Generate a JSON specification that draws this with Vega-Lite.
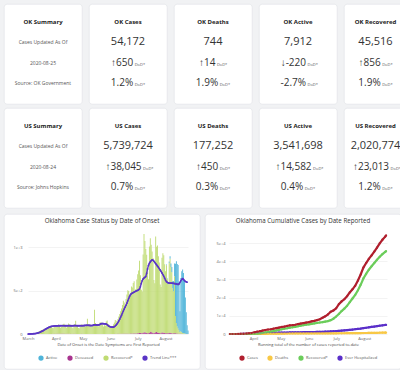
{
"$schema": "https://vega.github.io/schema/vega-lite/v6.json",
"background": "#f1f2f4",
"padding": {"left": 3, "top": 3, "right": 0, "bottom": 0},
"config": {
  "font": "Open Sans",
  "view": {"fill": "white", "stroke": "#e2e4e8", "strokeWidth": 0.7, "cornerRadius": 3}
},
"datasets": {
"cards": [
{"grp":"OK","pos":1,"kind":"summary","l1":"OK Summary","l2":"Cases Updated As Of","l3":"2020-08-25","l4":"Source: OK Government"},
{"grp":"OK","pos":2,"kind":"metric","l1":"OK Cases","l2":"54,172","l3":"↑650","l4":"1.2%"},
{"grp":"OK","pos":3,"kind":"metric","l1":"OK Deaths","l2":"744","l3":"↑14","l4":"1.9%"},
{"grp":"OK","pos":4,"kind":"metric","l1":"OK Active","l2":"7,912","l3":"↓-220","l4":"-2.7%"},
{"grp":"OK","pos":5,"kind":"metric","l1":"OK Recovered","l2":"45,516","l3":"↑856","l4":"1.9%"},
{"grp":"US","pos":1,"kind":"summary","l1":"US Summary","l2":"Cases Updated As Of","l3":"2020-08-24","l4":"Source: Johns Hopkins"},
{"grp":"US","pos":2,"kind":"metric","l1":"US Cases","l2":"5,739,724","l3":"↑38,045","l4":"0.7%"},
{"grp":"US","pos":3,"kind":"metric","l1":"US Deaths","l2":"177,252","l3":"↑450","l4":"0.3%"},
{"grp":"US","pos":4,"kind":"metric","l1":"US Active","l2":"3,541,698","l3":"↑14,582","l4":"0.4%"},
{"grp":"US","pos":5,"kind":"metric","l1":"US Recovered","l2":"2,020,774","l3":"↑23,013","l4":"1.2%"}
],
"onset": [
{"d":"2020/03/01","r":0,"x":0,"a":0,"t":0},
{"d":"2020/03/02","r":1,"x":0,"a":0,"t":0},
{"d":"2020/03/03","r":2,"x":0,"a":0,"t":1},
{"d":"2020/03/04","r":1,"x":0,"a":0,"t":1},
{"d":"2020/03/05","r":3,"x":0,"a":0,"t":2},
{"d":"2020/03/06","r":4,"x":0,"a":0,"t":2},
{"d":"2020/03/07","r":6,"x":0,"a":0,"t":3},
{"d":"2020/03/08","r":8,"x":0,"a":0,"t":4},
{"d":"2020/03/09","r":12,"x":0,"a":0,"t":5},
{"d":"2020/03/10","r":15,"x":0,"a":0,"t":7},
{"d":"2020/03/11","r":20,"x":0,"a":0,"t":9},
{"d":"2020/03/12","r":28,"x":0,"a":0,"t":12},
{"d":"2020/03/13","r":35,"x":0,"a":0,"t":15},
{"d":"2020/03/14","r":40,"x":0,"a":0,"t":19},
{"d":"2020/03/15","r":45,"x":0,"a":0,"t":24},
{"d":"2020/03/16","r":50,"x":0,"a":0,"t":29},
{"d":"2020/03/17","r":55,"x":0,"a":0,"t":34},
{"d":"2020/03/18","r":60,"x":0,"a":0,"t":40},
{"d":"2020/03/19","r":58,"x":0,"a":0,"t":46},
{"d":"2020/03/20","r":62,"x":1,"a":0,"t":52},
{"d":"2020/03/21","r":70,"x":0,"a":0,"t":58},
{"d":"2020/03/22","r":75,"x":1,"a":0,"t":64},
{"d":"2020/03/23","r":80,"x":2,"a":0,"t":70},
{"d":"2020/03/24","r":85,"x":1,"a":0,"t":75},
{"d":"2020/03/25","r":90,"x":0,"a":0,"t":80},
{"d":"2020/03/26","r":88,"x":1,"a":0,"t":84},
{"d":"2020/03/27","r":70,"x":2,"a":0,"t":87},
{"d":"2020/03/28","r":65,"x":1,"a":0,"t":89},
{"d":"2020/03/29","r":85,"x":1,"a":0,"t":91},
{"d":"2020/03/30","r":95,"x":2,"a":0,"t":92},
{"d":"2020/03/31","r":100,"x":1,"a":0,"t":93},
{"d":"2020/04/01","r":95,"x":3,"a":0,"t":93},
{"d":"2020/04/02","r":100,"x":2,"a":0,"t":94},
{"d":"2020/04/03","r":105,"x":4,"a":0,"t":94},
{"d":"2020/04/04","r":90,"x":3,"a":0,"t":95},
{"d":"2020/04/05","r":70,"x":2,"a":0,"t":95},
{"d":"2020/04/06","r":80,"x":3,"a":0,"t":95},
{"d":"2020/04/07","r":100,"x":4,"a":0,"t":96},
{"d":"2020/04/08","r":110,"x":2,"a":0,"t":96},
{"d":"2020/04/09","r":115,"x":3,"a":0,"t":96},
{"d":"2020/04/10","r":105,"x":2,"a":0,"t":96},
{"d":"2020/04/11","r":85,"x":1,"a":0,"t":95},
{"d":"2020/04/12","r":70,"x":2,"a":0,"t":95},
{"d":"2020/04/13","r":95,"x":3,"a":0,"t":95},
{"d":"2020/04/14","r":120,"x":2,"a":0,"t":96},
{"d":"2020/04/15","r":110,"x":2,"a":0,"t":96},
{"d":"2020/04/16","r":105,"x":1,"a":0,"t":96},
{"d":"2020/04/17","r":100,"x":2,"a":0,"t":95},
{"d":"2020/04/18","r":75,"x":1,"a":0,"t":95},
{"d":"2020/04/19","r":65,"x":1,"a":0,"t":94},
{"d":"2020/04/20","r":105,"x":2,"a":0,"t":95},
{"d":"2020/04/21","r":115,"x":1,"a":0,"t":96},
{"d":"2020/04/22","r":150,"x":2,"a":0,"t":97},
{"d":"2020/04/23","r":100,"x":1,"a":0,"t":97},
{"d":"2020/04/24","r":95,"x":1,"a":0,"t":96},
{"d":"2020/04/25","r":70,"x":0,"a":0,"t":95},
{"d":"2020/04/26","r":65,"x":1,"a":0,"t":95},
{"d":"2020/04/27","r":100,"x":1,"a":0,"t":95},
{"d":"2020/04/28","r":105,"x":1,"a":0,"t":96},
{"d":"2020/04/29","r":110,"x":2,"a":0,"t":96},
{"d":"2020/04/30","r":95,"x":1,"a":0,"t":95},
{"d":"2020/05/01","r":100,"x":1,"a":0,"t":96},
{"d":"2020/05/02","r":95,"x":1,"a":0,"t":97},
{"d":"2020/05/03","r":85,"x":0,"a":0,"t":98},
{"d":"2020/05/04","r":105,"x":1,"a":0,"t":99},
{"d":"2020/05/05","r":175,"x":1,"a":0,"t":100},
{"d":"2020/05/06","r":110,"x":0,"a":0,"t":100},
{"d":"2020/05/07","r":115,"x":1,"a":0,"t":100},
{"d":"2020/05/08","r":105,"x":1,"a":0,"t":99},
{"d":"2020/05/09","r":90,"x":0,"a":0,"t":98},
{"d":"2020/05/10","r":80,"x":0,"a":0,"t":97},
{"d":"2020/05/11","r":100,"x":1,"a":0,"t":97},
{"d":"2020/05/12","r":115,"x":1,"a":0,"t":99},
{"d":"2020/05/13","r":280,"x":0,"a":0,"t":103},
{"d":"2020/05/14","r":125,"x":1,"a":0,"t":105},
{"d":"2020/05/15","r":105,"x":0,"a":0,"t":105},
{"d":"2020/05/16","r":90,"x":1,"a":0,"t":104},
{"d":"2020/05/17","r":85,"x":0,"a":0,"t":103},
{"d":"2020/05/18","r":115,"x":0,"a":0,"t":104},
{"d":"2020/05/19","r":130,"x":1,"a":0,"t":106},
{"d":"2020/05/20","r":135,"x":0,"a":0,"t":110},
{"d":"2020/05/21","r":125,"x":0,"a":0,"t":116},
{"d":"2020/05/22","r":110,"x":1,"a":0,"t":120},
{"d":"2020/05/23","r":85,"x":0,"a":0,"t":120},
{"d":"2020/05/24","r":100,"x":0,"a":0,"t":118},
{"d":"2020/05/25","r":95,"x":1,"a":0,"t":117},
{"d":"2020/05/26","r":145,"x":0,"a":0,"t":116},
{"d":"2020/05/27","r":155,"x":0,"a":0,"t":115},
{"d":"2020/05/28","r":115,"x":1,"a":0,"t":108},
{"d":"2020/05/29","r":105,"x":0,"a":0,"t":98},
{"d":"2020/05/30","r":95,"x":0,"a":0,"t":90},
{"d":"2020/05/31","r":85,"x":1,"a":0,"t":85},
{"d":"2020/06/01","r":75,"x":1,"a":0,"t":82},
{"d":"2020/06/02","r":90,"x":0,"a":0,"t":80},
{"d":"2020/06/03","r":110,"x":1,"a":0,"t":79},
{"d":"2020/06/04","r":130,"x":1,"a":0,"t":80},
{"d":"2020/06/05","r":160,"x":2,"a":0,"t":84},
{"d":"2020/06/06","r":150,"x":1,"a":0,"t":92},
{"d":"2020/06/07","r":140,"x":1,"a":0,"t":102},
{"d":"2020/06/08","r":170,"x":2,"a":0,"t":116},
{"d":"2020/06/09","r":200,"x":2,"a":0,"t":132},
{"d":"2020/06/10","r":230,"x":1,"a":0,"t":150},
{"d":"2020/06/11","r":260,"x":2,"a":0,"t":170},
{"d":"2020/06/12","r":290,"x":3,"a":0,"t":192},
{"d":"2020/06/13","r":330,"x":2,"a":0,"t":214},
{"d":"2020/06/14","r":380,"x":3,"a":0,"t":238},
{"d":"2020/06/15","r":360,"x":3,"a":0,"t":262},
{"d":"2020/06/16","r":330,"x":2,"a":0,"t":286},
{"d":"2020/06/17","r":400,"x":3,"a":0,"t":308},
{"d":"2020/06/18","r":450,"x":4,"a":0,"t":330},
{"d":"2020/06/19","r":500,"x":4,"a":0,"t":354},
{"d":"2020/06/20","r":490,"x":3,"a":0,"t":382},
{"d":"2020/06/21","r":440,"x":4,"a":0,"t":408},
{"d":"2020/06/22","r":470,"x":5,"a":0,"t":432},
{"d":"2020/06/23","r":540,"x":5,"a":0,"t":452},
{"d":"2020/06/24","r":530,"x":4,"a":0,"t":463},
{"d":"2020/06/25","r":580,"x":5,"a":0,"t":470},
{"d":"2020/06/26","r":600,"x":6,"a":0,"t":476},
{"d":"2020/06/27","r":490,"x":5,"a":0,"t":482},
{"d":"2020/06/28","r":510,"x":6,"a":0,"t":488},
{"d":"2020/06/29","r":620,"x":7,"a":0,"t":494},
{"d":"2020/06/30","r":680,"x":8,"a":0,"t":498},
{"d":"2020/07/01","r":720,"x":10,"a":0,"t":502},
{"d":"2020/07/02","r":830,"x":12,"a":0,"t":508},
{"d":"2020/07/03","r":660,"x":15,"a":0,"t":518},
{"d":"2020/07/04","r":500,"x":8,"a":0,"t":542},
{"d":"2020/07/05","r":480,"x":9,"a":0,"t":580},
{"d":"2020/07/06","r":900,"x":14,"a":0,"t":612},
{"d":"2020/07/07","r":1130,"x":18,"a":0,"t":632},
{"d":"2020/07/08","r":1050,"x":20,"a":0,"t":643},
{"d":"2020/07/09","r":960,"x":16,"a":0,"t":652},
{"d":"2020/07/10","r":900,"x":12,"a":0,"t":660},
{"d":"2020/07/11","r":710,"x":10,"a":0,"t":698},
{"d":"2020/07/12","r":620,"x":9,"a":0,"t":748},
{"d":"2020/07/13","r":990,"x":15,"a":0,"t":788},
{"d":"2020/07/14","r":1080,"x":22,"a":0,"t":812},
{"d":"2020/07/15","r":1000,"x":25,"a":0,"t":828},
{"d":"2020/07/16","r":930,"x":18,"a":0,"t":842},
{"d":"2020/07/17","r":860,"x":14,"a":0,"t":852},
{"d":"2020/07/18","r":610,"x":10,"a":0,"t":848},
{"d":"2020/07/19","r":570,"x":12,"a":0,"t":838},
{"d":"2020/07/20","r":1100,"x":20,"a":0,"t":824},
{"d":"2020/07/21","r":980,"x":24,"a":0,"t":810},
{"d":"2020/07/22","r":1000,"x":18,"a":0,"t":796},
{"d":"2020/07/23","r":880,"x":15,"a":0,"t":782},
{"d":"2020/07/24","r":810,"x":12,"a":0,"t":768},
{"d":"2020/07/25","r":560,"x":9,"a":0,"t":752},
{"d":"2020/07/26","r":530,"x":10,"a":0,"t":736},
{"d":"2020/07/27","r":860,"x":16,"a":0,"t":720},
{"d":"2020/07/28","r":910,"x":18,"a":0,"t":702},
{"d":"2020/07/29","r":890,"x":14,"a":0,"t":684},
{"d":"2020/07/30","r":790,"x":12,"a":0,"t":664},
{"d":"2020/07/31","r":710,"x":10,"a":0,"t":642},
{"d":"2020/08/01","r":780,"x":10,"a":10,"t":620},
{"d":"2020/08/02","r":620,"x":8,"a":10,"t":602},
{"d":"2020/08/03","r":560,"x":9,"a":15,"t":594},
{"d":"2020/08/04","r":800,"x":12,"a":20,"t":589},
{"d":"2020/08/05","r":850,"x":14,"a":30,"t":586},
{"d":"2020/08/06","r":760,"x":11,"a":40,"t":585},
{"d":"2020/08/07","r":700,"x":9,"a":60,"t":585},
{"d":"2020/08/08","r":520,"x":7,"a":80,"t":584},
{"d":"2020/08/09","r":480,"x":8,"a":120,"t":583},
{"d":"2020/08/10","r":650,"x":10,"a":150,"t":582},
{"d":"2020/08/11","r":200,"x":8,"a":600,"t":580},
{"d":"2020/08/12","r":120,"x":6,"a":710,"t":578},
{"d":"2020/08/13","r":80,"x":5,"a":720,"t":575},
{"d":"2020/08/14","r":60,"x":4,"a":730,"t":572},
{"d":"2020/08/15","r":40,"x":3,"a":560,"t":570},
{"d":"2020/08/16","r":20,"x":2,"a":240,"t":576},
{"d":"2020/08/17","r":30,"x":3,"a":610,"t":592},
{"d":"2020/08/18","r":20,"x":2,"a":700,"t":612},
{"d":"2020/08/19","r":10,"x":1,"a":730,"t":628},
{"d":"2020/08/20","r":5,"x":1,"a":695,"t":636},
{"d":"2020/08/21","r":5,"x":0,"a":605,"t":628},
{"d":"2020/08/22","r":2,"x":0,"a":418,"t":615},
{"d":"2020/08/23","r":0,"x":0,"a":250,"t":606},
{"d":"2020/08/24","r":0,"x":0,"a":100,"t":600},
{"d":"2020/08/25","r":0,"x":0,"a":40,"t":596}
],
"cum": [
{"d":"2020/03/06","c":1,"dt":0,"r":0,"h":0},
{"d":"2020/03/09","c":1,"dt":0,"r":0,"h":0},
{"d":"2020/03/12","c":2,"dt":0,"r":0,"h":0},
{"d":"2020/03/15","c":7,"dt":0,"r":0,"h":0},
{"d":"2020/03/18","c":29,"dt":1,"r":0,"h":10},
{"d":"2020/03/21","c":67,"dt":2,"r":0,"h":25},
{"d":"2020/03/24","c":164,"dt":5,"r":5,"h":60},
{"d":"2020/03/27","c":322,"dt":8,"r":12,"h":110},
{"d":"2020/03/30","c":481,"dt":17,"r":30,"h":180},
{"d":"2020/04/02","c":879,"dt":34,"r":60,"h":260},
{"d":"2020/04/05","c":1252,"dt":51,"r":126,"h":340},
{"d":"2020/04/08","c":1524,"dt":80,"r":300,"h":400},
{"d":"2020/04/11","c":1868,"dt":94,"r":560,"h":450},
{"d":"2020/04/14","c":2184,"dt":123,"r":860,"h":500},
{"d":"2020/04/17","c":2465,"dt":136,"r":1100,"h":550},
{"d":"2020/04/20","c":2599,"dt":143,"r":1300,"h":590},
{"d":"2020/04/23","c":2894,"dt":164,"r":1600,"h":640},
{"d":"2020/04/26","c":3193,"dt":188,"r":1900,"h":680},
{"d":"2020/04/29","c":3473,"dt":222,"r":2250,"h":720},
{"d":"2020/05/02","c":3851,"dt":234,"r":2600,"h":750},
{"d":"2020/05/05","c":4044,"dt":245,"r":2900,"h":790},
{"d":"2020/05/08","c":4424,"dt":266,"r":3150,"h":820},
{"d":"2020/05/11","c":4732,"dt":288,"r":3450,"h":850},
{"d":"2020/05/14","c":4852,"dt":294,"r":3700,"h":880},
{"d":"2020/05/17","c":5086,"dt":299,"r":3950,"h":900},
{"d":"2020/05/20","c":5398,"dt":299,"r":4250,"h":930},
{"d":"2020/05/23","c":5680,"dt":307,"r":4600,"h":950},
{"d":"2020/05/26","c":5960,"dt":311,"r":4850,"h":980},
{"d":"2020/05/29","c":6229,"dt":334,"r":5100,"h":1000},
{"d":"2020/06/01","c":6506,"dt":340,"r":5300,"h":1030},
{"d":"2020/06/04","c":6907,"dt":348,"r":5550,"h":1060},
{"d":"2020/06/07","c":7205,"dt":353,"r":5800,"h":1090},
{"d":"2020/06/10","c":7626,"dt":359,"r":6050,"h":1120},
{"d":"2020/06/13","c":8073,"dt":362,"r":6300,"h":1160},
{"d":"2020/06/16","c":8904,"dt":363,"r":6500,"h":1210},
{"d":"2020/06/19","c":9706,"dt":368,"r":6800,"h":1270},
{"d":"2020/06/22","c":10733,"dt":372,"r":7100,"h":1330},
{"d":"2020/06/25","c":12214,"dt":376,"r":7600,"h":1420},
{"d":"2020/06/28","c":12942,"dt":383,"r":8400,"h":1520},
{"d":"2020/07/01","c":14112,"dt":389,"r":9600,"h":1620},
{"d":"2020/07/04","c":16362,"dt":399,"r":11000,"h":1730},
{"d":"2020/07/07","c":17893,"dt":407,"r":12600,"h":1850},
{"d":"2020/07/10","c":19092,"dt":413,"r":13900,"h":1980},
{"d":"2020/07/13","c":20745,"dt":427,"r":15500,"h":2120},
{"d":"2020/07/16","c":22813,"dt":438,"r":17500,"h":2280},
{"d":"2020/07/19","c":24540,"dt":448,"r":19500,"h":2450},
{"d":"2020/07/22","c":26500,"dt":461,"r":21500,"h":2620},
{"d":"2020/07/25","c":29389,"dt":479,"r":24000,"h":2800},
{"d":"2020/07/28","c":32686,"dt":497,"r":27000,"h":2980},
{"d":"2020/07/31","c":36487,"dt":536,"r":30500,"h":3200},
{"d":"2020/08/03","c":39000,"dt":549,"r":33000,"h":3420},
{"d":"2020/08/06","c":41250,"dt":575,"r":35300,"h":3650},
{"d":"2020/08/09","c":43200,"dt":606,"r":37200,"h":3880},
{"d":"2020/08/12","c":45300,"dt":640,"r":39000,"h":4100},
{"d":"2020/08/15","c":47437,"dt":670,"r":40800,"h":4320},
{"d":"2020/08/18","c":49800,"dt":695,"r":42400,"h":4540},
{"d":"2020/08/21","c":51800,"dt":717,"r":43900,"h":4750},
{"d":"2020/08/24","c":53500,"dt":737,"r":45100,"h":4950},
{"d":"2020/08/25","c":54172,"dt":744,"r":45516,"h":5000}
]
},
"spacing": 4,
"resolve": {"scale": {"x": "independent", "y": "independent", "color": "independent"}, "legend": {"color": "independent"}, "axis": {"x": "independent", "y": "independent"}},
"vconcat": [
{
  "spacing": 5,
  "resolve": {"scale": {"x": "independent", "y": "independent", "color": "independent"}},
  "hconcat": [
    {
      "data": {"name": "cards"},
      "transform": [{"filter": "datum.pos < 5"}, {"fold": ["l1","l2","l3","l4"], "as": ["line","txt"]}],
      "facet": {"row": {"field": "grp", "type": "nominal", "header": null}, "column": {"field": "pos", "type": "ordinal", "header": null}},
      "spacing": {"row": 2, "column": 5},
      "spec": {
        "width": 78, "height": 100,
        "encoding": {"y": {"field": "line", "type": "ordinal", "scale": {"domain": ["l1","l2","l3","l4"], "range": [18, 79], "padding": 0}, "axis": null}, "text": {"field": "txt"}},
        "layer": [
          {"transform": [{"filter": "datum.line == 'l1'"}], "mark": {"type": "text", "fontSize": 6, "fontWeight": "bold", "color": "#222", "baseline": "middle"}},
          {"transform": [{"filter": "datum.kind == 'summary' && datum.line != 'l1'"}], "mark": {"type": "text", "fontSize": 5, "color": "#555", "baseline": "middle"}},
          {"transform": [{"filter": "datum.kind == 'metric' && datum.line == 'l2'"}], "mark": {"type": "text", "fontSize": 11, "color": "#333", "baseline": "middle"}},
          {"transform": [{"filter": "datum.kind == 'metric' && (datum.line == 'l3' || datum.line == 'l4')"}], "mark": {"type": "text", "fontSize": 10, "color": "#333", "baseline": "middle", "align": "right", "dx": {"expr": "(length(datum.txt)*5.6 - 12)/2"}}},
          {"transform": [{"filter": "datum.kind == 'metric' && (datum.line == 'l3' || datum.line == 'l4')"}], "mark": {"type": "text", "fontSize": 4, "color": "#555", "baseline": "middle", "align": "left", "dy": 2, "dx": {"expr": "(length(datum.txt)*5.6 - 12)/2 + 1.5"}}, "encoding": {"text": {"value": "DoD*"}}}
        ]
      }
    },
    {
      "data": {"name": "cards"},
      "transform": [{"filter": "datum.pos == 5"}, {"fold": ["l1","l2","l3","l4"], "as": ["line","txt"]}],
      "facet": {"row": {"field": "grp", "type": "nominal", "header": null}},
      "spacing": {"row": 2},
      "spec": {
        "width": 63, "height": 100,
        "encoding": {"y": {"field": "line", "type": "ordinal", "scale": {"domain": ["l1","l2","l3","l4"], "range": [18, 79], "padding": 0}, "axis": null}, "text": {"field": "txt"}},
        "layer": [
          {"transform": [{"filter": "datum.line == 'l1'"}], "mark": {"type": "text", "fontSize": 6, "fontWeight": "bold", "color": "#222", "baseline": "middle"}},
          {"transform": [{"filter": "datum.kind == 'metric' && datum.line == 'l2'"}], "mark": {"type": "text", "fontSize": 11, "color": "#333", "baseline": "middle"}},
          {"transform": [{"filter": "datum.kind == 'metric' && (datum.line == 'l3' || datum.line == 'l4')"}], "mark": {"type": "text", "fontSize": 10, "color": "#333", "baseline": "middle", "align": "right", "dx": {"expr": "(length(datum.txt)*5.6 - 12)/2"}}},
          {"transform": [{"filter": "datum.kind == 'metric' && (datum.line == 'l3' || datum.line == 'l4')"}], "mark": {"type": "text", "fontSize": 4, "color": "#555", "baseline": "middle", "align": "left", "dy": 2, "dx": {"expr": "(length(datum.txt)*5.6 - 12)/2 + 1.5"}}, "encoding": {"text": {"value": "DoD*"}}}
        ]
      }
    }
  ]
},
{
  "spacing": 3,
  "resolve": {"scale": {"x": "independent", "y": "independent", "color": "independent"}, "legend": {"color": "independent"}, "axis": {"x": "independent", "y": "independent"}},
  "hconcat": [
    {
      "width": 196, "height": 155,
      "data": {"name": "onset"},
      "title": {"text": "Oklahoma Case Status by Date of Onset", "fontSize": 6.2, "fontWeight": "normal", "color": "#333", "offset": -10, "anchor": "middle", "frame": "group"},
      "layer": [
        {
          "transform": [{"fold": ["a","x","r"], "as": ["key","val"]}],
          "mark": {"type": "bar", "binSpacing": 0},
          "encoding": {
            "x": {"field": "d", "type": "temporal", "timeUnit": "yearmonthdate",
                  "scale": {"domain": [{"year":2020,"month":3,"date":1},{"year":2020,"month":8,"date":26}], "range": [24,184], "nice": false},
                  "axis": {"orient": "bottom", "offset": -35, "format": "%B", "tickCount": {"interval": "month", "step": 1}, "domain": false, "ticks": false, "grid": false, "labelFontSize": 4, "labelColor": "#666", "labelPadding": 2, "labelFlush": false, "labelOverlap": false, "title": "Date of Onset is the Date Symptoms are First Reported", "titleFontSize": 4, "titleFontWeight": "normal", "titleColor": "#444", "titlePadding": 2}},
            "y": {"field": "val", "type": "quantitative", "stack": "zero",
                  "scale": {"domain": [0,1000], "range": [120,33], "nice": false},
                  "axis": {"orient": "left", "offset": -20, "values": [0,250,500,750,1000], "format": ",", "domain": false, "ticks": false, "labelFontSize": 4, "labelColor": "#666", "labelPadding": 2, "grid": true, "gridColor": "#ebebeb", "gridWidth": 0.6, "title": null}},
            "color": {"field": "key", "type": "nominal",
                      "scale": {"domain": ["a","x","r","t"], "range": ["#4fb4d9","#a8348f","#bfdb72","#5a35c6"]},
                      "legend": {"orient": "none", "legendX": 34, "legendY": 141, "direction": "horizontal", "title": null, "labelFontSize": 4, "labelColor": "#555", "symbolSize": 14, "symbolType": "circle", "columnPadding": 7, "labelOffset": 2,
                                 "labelExpr": "datum.label == 'a' ? 'Active' : datum.label == 'x' ? 'Deceased' : datum.label == 'r' ? 'Recovered*' : 'Trend Line***'"}},
            "order": {"field": "key", "sort": "descending"}
          }
        },
        {
          "mark": {"type": "line", "strokeWidth": 1.4, "point": {"filled": true, "size": 3}},
          "encoding": {
            "x": {"field": "d", "type": "temporal"},
            "y": {"field": "t", "type": "quantitative"},
            "color": {"datum": "t", "type": "nominal"}
          }
        }
      ]
    },
    {
      "width": 196, "height": 155,
      "data": {"name": "cum"},
      "title": {"text": "Oklahoma Cumulative Cases by Date Reported", "fontSize": 6.2, "fontWeight": "normal", "color": "#333", "offset": -10, "anchor": "middle", "frame": "group"},
      "transform": [{"fold": ["h","dt","r","c"], "as": ["key","val"]}],
      "mark": {"type": "line", "strokeWidth": 2.2, "point": {"filled": true, "size": 5}},
      "encoding": {
        "x": {"field": "d", "type": "temporal",
              "scale": {"domain": [{"year":2020,"month":3,"date":5},{"year":2020,"month":8,"date":26}], "range": [24,182], "nice": false},
              "axis": {"orient": "bottom", "offset": -35, "format": "%B", "tickCount": {"interval": "month", "step": 1}, "domain": false, "ticks": false, "grid": false, "labelFontSize": 4, "labelColor": "#666", "labelPadding": 2, "labelFlush": false, "labelOverlap": false, "title": "Running total of the number of cases reported to-date", "titleFontSize": 4, "titleFontWeight": "normal", "titleColor": "#444", "titlePadding": 2}},
        "y": {"field": "val", "type": "quantitative",
              "scale": {"domain": [0,50000], "range": [120,29], "nice": false},
              "axis": {"orient": "left", "offset": -22, "values": [0,10000,20000,30000,40000,50000], "format": ",", "domain": false, "ticks": false, "labelFontSize": 4, "labelColor": "#666", "labelPadding": 2, "grid": true, "gridColor": "#ebebeb", "gridWidth": 0.6, "title": null}},
        "color": {"field": "key", "type": "nominal",
                  "scale": {"domain": ["c","dt","r","h"], "range": ["#b01f2e","#f8c846","#6bcd5b","#5a2fc9"]},
                  "legend": {"orient": "none", "legendX": 34, "legendY": 141, "direction": "horizontal", "title": null, "labelFontSize": 4, "labelColor": "#555", "symbolSize": 14, "symbolType": "circle", "columnPadding": 7, "labelOffset": 2,
                             "labelExpr": "datum.label == 'c' ? 'Cases' : datum.label == 'dt' ? 'Deaths' : datum.label == 'r' ? 'Recovered*' : 'Ever Hospitalized'"}}
      }
    }
  ]
}
]
}
